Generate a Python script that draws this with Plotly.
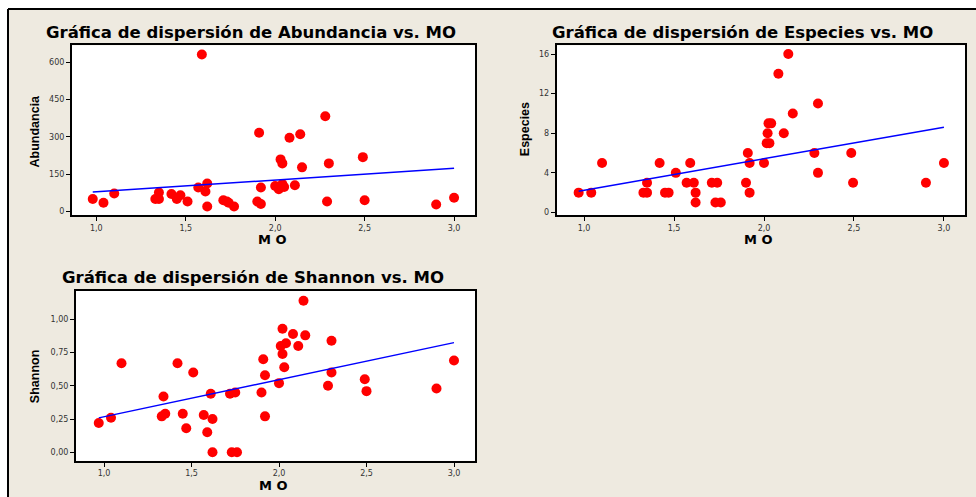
import numpy as np
import plotly.graph_objects as go

# ---------------- data ----------------
mo_abund = [0.98, 1.04, 1.10, 1.33, 1.35, 1.35, 1.42, 1.45, 1.47, 1.51,
            1.57, 1.59, 1.61, 1.62, 1.62, 1.71, 1.73, 1.74, 1.77, 1.90,
            1.91, 1.92, 1.92, 2.00, 2.02, 2.03, 2.04, 2.04, 2.05, 2.08,
            2.11, 2.14, 2.15, 2.28, 2.29, 2.30, 2.49, 2.50, 2.90, 3.00]
abundancia = [50, 35, 72, 50, 50, 76, 70, 50, 65, 40,
              96, 630, 80, 112, 20, 45, 40, 35, 20, 40,
              316, 96, 30, 102, 89, 209, 110, 193, 98, 296,
              105, 310, 177, 382, 40, 193, 218, 45, 28, 55]

mo_esp = [0.97, 1.04, 1.10, 1.33, 1.35, 1.35, 1.42, 1.45, 1.47, 1.51,
          1.57, 1.59, 1.61, 1.62, 1.62, 1.71, 1.74, 1.73, 1.76, 1.90,
          1.91, 1.92, 1.92, 2.00, 2.015, 2.03, 2.02, 2.025, 2.04, 2.08,
          2.11, 2.135, 2.16, 2.28, 2.30, 2.30, 2.485, 2.495, 2.90, 3.00]
especies = [2, 2, 5, 2, 2, 3, 5, 2, 2, 4,
            3, 5, 3, 2, 1, 3, 3, 1, 1, 3,
            6, 5, 2, 5, 7, 7, 8, 9, 9, 14,
            8, 16, 10, 6, 11, 4, 6, 3, 3, 5]

mo_shan = [0.97, 1.04, 1.10, 1.33, 1.35, 1.34, 1.42, 1.45, 1.47, 1.51,
           1.57, 1.59, 1.61, 1.62, 1.62, 1.72, 1.75, 1.73, 1.76, 1.90,
           1.91, 1.92, 1.92, 2.00, 2.01, 2.02, 2.04, 2.02, 2.03, 2.08,
           2.11, 2.14, 2.15, 2.28, 2.30, 2.30, 2.49, 2.50, 2.90, 3.00]
shannon = [0.22, 0.26, 0.67, 0.27, 0.29, 0.42, 0.67, 0.29, 0.18, 0.60,
           0.28, 0.15, 0.44, 0.25, 0.00, 0.44, 0.45, 0.00, 0.00, 0.45,
           0.70, 0.58, 0.27, 0.52, 0.80, 0.93, 0.82, 0.74, 0.64, 0.89,
           0.80, 1.14, 0.88, 0.50, 0.60, 0.84, 0.55, 0.46, 0.48, 0.69]

x_ticks = [1.0, 1.5, 2.0, 2.5, 3.0]
abund_ticks = [0, 150, 300, 450, 600]
esp_ticks = [0, 4, 8, 12, 16]
shan_ticks = [0.0, 0.25, 0.50, 0.75, 1.00]

titles = ["Gráfica de dispersión de Abundancia vs. MO",
          "Gráfica de dispersión de Especies vs. MO",
          "Gráfica de dispersión de Shannon vs. MO"]
y_titles = ["Abundancia", "Especies", "Shannon"]
x_title = "M O"

# ---------------- figure ----------------
W, H = 976, 497
BG = "#EEEAE0"
fig = go.Figure()

panels = [
    (mo_abund, abundancia, "x", "y"),
    (mo_esp, especies, "x2", "y2"),
    (mo_shan, shannon, "x3", "y3"),
]
for xs, ys, xa, ya in panels:
    fig.add_trace(go.Scatter(x=xs, y=ys, mode="markers", xaxis=xa, yaxis=ya,
                             marker=dict(color="#FF0000", size=10, line=dict(width=0)),
                             showlegend=False, hoverinfo="x+y"))
    b, a = np.polyfit(np.array(xs), np.array(ys), 1)
    lx = np.array([min(xs), max(xs)])
    fig.add_trace(go.Scatter(x=lx, y=a + b * lx, mode="lines", xaxis=xa, yaxis=ya,
                             line=dict(color="#0000FF", width=1.5),
                             showlegend=False, hoverinfo="skip"))


def px_x(p):
    return p / W


def px_y(p):
    return 1 - p / H


tickfont = dict(family="DejaVu Sans", size=8, color="#333333")
common = dict(showgrid=False, zeroline=False, showline=True, linecolor="black",
              linewidth=2, mirror=True, ticks="outside", ticklen=4, tickwidth=1,
              tickcolor="black", tickfont=tickfont)

layout_axes = dict(
    xaxis=dict(domain=[px_x(72), px_x(475)], range=[0.864, 3.117], anchor="y",
               tickvals=x_ticks, tickformat=".1f", **common),
    yaxis=dict(domain=[px_y(216), px_y(45.5)], range=[-14.8, 667], anchor="x",
               tickvals=abund_ticks, **common),
    xaxis2=dict(domain=[px_x(556.7), px_x(965)], range=[0.848, 3.117], anchor="y2",
                tickvals=x_ticks, tickformat=".1f", **common),
    yaxis2=dict(domain=[px_y(216), px_y(45.5)], range=[-0.27, 16.88], anchor="x2",
                tickvals=esp_ticks, **common),
    xaxis3=dict(domain=[px_x(76), px_x(475)], range=[0.84, 3.12], anchor="y3",
                tickvals=x_ticks, tickformat=".1f", **common),
    yaxis3=dict(domain=[px_y(462.7), px_y(291.7)], range=[-0.065, 1.2176], anchor="x3",
                tickvals=shan_ticks, tickformat=".2f", **common),
)

title_font = dict(family="DejaVu Sans", size=16.5, color="black")
ytitle_font = dict(family="Liberation Sans", size=12.5, color="black")
xtitle_font = dict(family="DejaVu Sans", size=13, color="black")

annotations = []
title_pos = [(251, 33), (742, 33), (252.7, 279)]
for t, (cx, cy) in zip(titles, title_pos):
    annotations.append(dict(text="<b>%s</b>" % t, x=px_x(cx), y=px_y(cy), xref="paper",
                            yref="paper", showarrow=False, xanchor="center",
                            yanchor="middle", font=title_font))
ytitle_pos = [(35, 132), (525.7, 130), (35.7, 378)]
for t, (cx, cy) in zip(y_titles, ytitle_pos):
    annotations.append(dict(text="<b>%s</b>" % t, x=px_x(cx), y=px_y(cy), xref="paper",
                            yref="paper", showarrow=False, xanchor="center",
                            yanchor="middle", textangle=-90, font=ytitle_font))
xtitle_pos = [(272, 240.5), (758, 240.5), (273, 487)]
for (cx, cy) in xtitle_pos:
    annotations.append(dict(text="<b>%s</b>" % x_title, x=px_x(cx), y=px_y(cy), xref="paper",
                            yref="paper", showarrow=False, xanchor="center",
                            yanchor="middle", font=xtitle_font))

shapes = [
    dict(type="rect", xref="paper", yref="paper", x0=0, x1=1.02, y0=px_y(9), y1=1.02,
         fillcolor="white", line=dict(width=0), layer="below"),
    dict(type="rect", xref="paper", yref="paper", x0=-0.02, x1=px_x(8), y0=-0.02, y1=1.02,
         fillcolor="white", line=dict(width=0), layer="below"),
    dict(type="line", xref="paper", yref="paper", x0=px_x(8), x1=1.02, y0=px_y(9), y1=px_y(9),
         line=dict(color="black", width=2)),
    dict(type="line", xref="paper", yref="paper", x0=px_x(8), x1=px_x(8), y0=-0.02, y1=px_y(9),
         line=dict(color="black", width=2)),
]

fig.update_layout(
    width=W, height=H, margin=dict(l=0, r=0, t=0, b=0),
    paper_bgcolor=BG, plot_bgcolor="white", separators=",.",
    annotations=annotations, shapes=shapes, showlegend=False,
    **layout_axes,
)

fig.write_html("out.html", config={"displayModeBar": False},
               post_script="document.body.style.margin='0';")
